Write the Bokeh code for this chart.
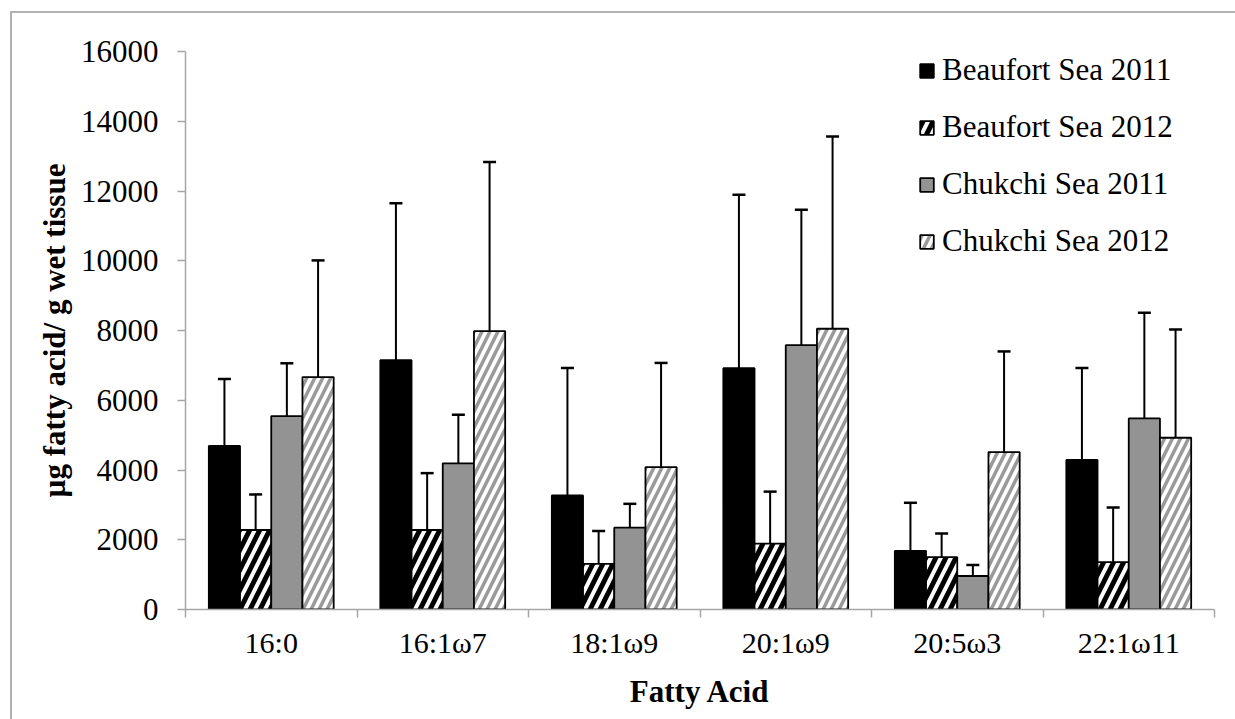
import numpy as np
from bokeh.plotting import figure
from bokeh.models import (ColumnDataSource, Range1d, FixedTicker, Whisker, TeeHead,
                          Legend, LegendItem)
from bokeh.transform import dodge
from bokeh.embed import file_html
from bokeh.resources import INLINE

categories = ["16:0", "16:1\u03c97", "18:1\u03c99", "20:1\u03c99", "20:5\u03c93", "22:1\u03c911"]
series = ["Beaufort Sea 2011", "Beaufort Sea 2012", "Chukchi Sea 2011", "Chukchi Sea 2012"]

beaufort_2011 = [4690, 7150, 3270, 6920, 1680, 4290]
beaufort_2012 = [2280, 2280, 1310, 1890, 1500, 1360]
chukchi_2011 = [5545, 4190, 2345, 7580, 960, 5480]
chukchi_2012 = [6665, 7980, 4085, 8050, 4515, 4925]

beaufort_2011_sd = [1920, 4500, 3655, 4970, 1380, 2635]
beaufort_2012_sd = [1020, 1630, 940, 1490, 680, 1565]
chukchi_2011_sd = [1515, 1395, 685, 3880, 315, 3030]
chukchi_2012_sd = [3345, 4850, 2985, 5510, 2885, 3105]

y_ticks = [0, 2000, 4000, 6000, 8000, 10000, 12000, 14000, 16000]

means = [beaufort_2011, beaufort_2012, chukchi_2011, chukchi_2012]
sds = [beaufort_2011_sd, beaufort_2012_sd, chukchi_2011_sd, chukchi_2012_sd]

data = {"x": [i + 0.5 for i in range(len(categories))]}
for k, (m, s) in enumerate(zip(means, sds)):
    data[f"m{k}"] = m
    data[f"t{k}"] = [a + b for a, b in zip(m, s)]
src = ColumnDataSource(data)

FONT = "Liberation Serif"
AXIS_GRAY = "#a6a6a6"

p = figure(width=1225, height=708, output_backend="svg", toolbar_location=None,
           x_range=Range1d(0, len(categories)), y_range=Range1d(0, 16000),
           min_border_left=173, min_border_right=23, min_border_top=38, min_border_bottom=112,
           margin=(11, 0, 0, 10))
p.styles = {"border-left": "2px solid #b0b0b0", "border-top": "2px solid #b0b0b0"}
p.outline_line_color = None
p.xgrid.visible = False
p.ygrid.visible = False
p.background_fill_color = "white"
p.border_fill_color = "white"

offsets = [-0.273, -0.091, 0.091, 0.273]
bw = 0.182
styles = [
    dict(fill_color="black"),
    dict(fill_color="white", hatch_pattern="/", hatch_color="black", hatch_scale=20, hatch_weight=5),
    dict(fill_color="#939393"),
    dict(fill_color="white", hatch_pattern="/", hatch_color="#9a9a9a", hatch_scale=16, hatch_weight=3.5),
]
items = []
for k in range(4):
    r = p.vbar(x=dodge("x", offsets[k], range=p.x_range), top=f"m{k}", bottom=0, width=bw,
               source=src, line_color="black", line_width=1.8, **styles[k])
    items.append(LegendItem(label=series[k], renderers=[r]))
    w = Whisker(base=dodge("x", offsets[k], range=p.x_range), lower=f"m{k}", upper=f"t{k}",
                source=src, line_color="black", line_width=2,
                upper_head=TeeHead(size=13, line_width=2.5, line_color="black"), lower_head=None)
    p.add_layout(w)

# axes
p.yaxis.ticker = FixedTicker(ticks=y_ticks)
p.yaxis.axis_line_color = AXIS_GRAY
p.yaxis.axis_line_width = 1.5
p.yaxis.major_tick_line_color = AXIS_GRAY
p.yaxis.major_tick_line_width = 1.5
p.yaxis.major_tick_out = 8
p.yaxis.major_tick_in = 0
p.yaxis.minor_tick_line_color = None
p.yaxis.major_label_standoff = 19
p.yaxis.major_label_text_font = FONT
p.yaxis.major_label_text_font_size = "31px"
p.yaxis.major_label_text_color = "black"
p.yaxis.axis_label = "\u00b5g fatty acid/ g wet tissue"
p.yaxis.axis_label_text_font = FONT
p.yaxis.axis_label_text_font_style = "bold"
p.yaxis.axis_label_text_font_size = "31px"
p.yaxis.axis_label_text_color = "black"
p.yaxis.axis_label_standoff = 6

centers = [i + 0.5 for i in range(len(categories))]
bounds = list(range(len(categories) + 1))
p.xaxis.ticker = FixedTicker(ticks=centers, minor_ticks=bounds)
p.xaxis.major_label_overrides = {c: lab for c, lab in zip(centers, categories)}
p.xaxis.axis_line_color = AXIS_GRAY
p.xaxis.axis_line_width = 1.5
p.xaxis.major_tick_out = 0
p.xaxis.major_tick_in = 0
p.xaxis.major_tick_line_color = None
p.xaxis.minor_tick_line_color = AXIS_GRAY
p.xaxis.minor_tick_line_width = 1.5
p.xaxis.minor_tick_out = 8
p.xaxis.minor_tick_in = 0
p.xaxis.major_label_standoff = 8
p.xaxis.major_label_text_font = FONT
p.xaxis.major_label_text_font_size = "30px"
p.xaxis.major_label_text_color = "black"
p.xaxis.axis_label = "Fatty Acid"
p.xaxis.axis_label_text_font = FONT
p.xaxis.axis_label_text_font_style = "bold"
p.xaxis.axis_label_text_font_size = "31px"
p.xaxis.axis_label_text_color = "black"
p.xaxis.axis_label_standoff = 12

legend = Legend(items=items, location=(733, 350), orientation="vertical",
                label_text_font=FONT, label_text_font_size="31px", label_text_color="black",
                glyph_width=17, glyph_height=17, label_standoff=7, spacing=21,
                padding=0, margin=0, border_line_color=None, background_fill_alpha=0)
p.add_layout(legend)

open("out.html", "w").write(file_html(p, INLINE))
